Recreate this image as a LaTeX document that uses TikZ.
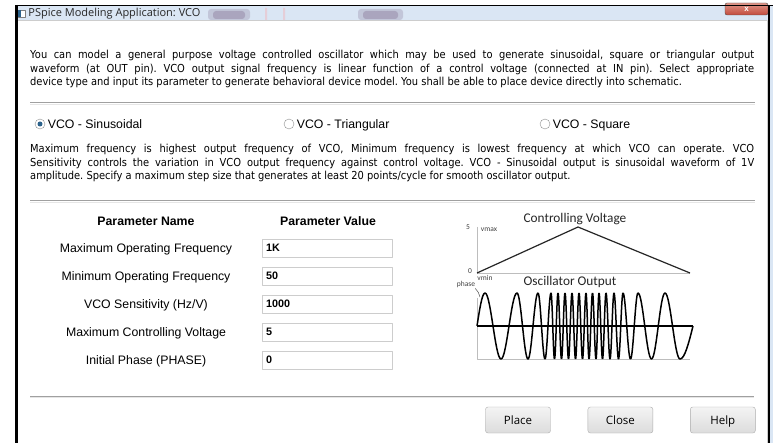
\documentclass[tikz,border=0pt]{standalone}
\usepackage{fontspec}
\setmainfont{Liberation Sans}
\newfontfamily\tahoma{DejaVu Sans}[FakeStretch=0.9]
\newfontfamily\segoe{Open Sans}
\newfontfamily\calibri{Carlito}
\usetikzlibrary{positioning}
\frenchspacing

\definecolor{glass}{HTML}{DAE6F4}
\definecolor{smudge}{HTML}{7E6A8C}
\definecolor{rule}{HTML}{A0A0A0}
\definecolor{rulelight}{HTML}{E6E6E6}
\definecolor{editline}{HTML}{CDCDCD}
\definecolor{axisgray}{HTML}{BDBDBD}
\definecolor{btnedge}{HTML}{ADADAD}
\definecolor{btntop}{HTML}{F4F4F4}
\definecolor{btnbottom}{HTML}{DCDCDC}
\definecolor{radioedge}{HTML}{8E8F8F}
\definecolor{radiodot}{HTML}{2C628B}
\definecolor{closetop}{HTML}{E0978A}
\definecolor{closebottom}{HTML}{C24A3C}

\begin{document}
\begin{tikzpicture}[x=1pt,y=-1pt,line join=bevel,
  para/.style={anchor=north west,inner sep=0pt,text width=724pt,align=justify,
    font=\tahoma\fontsize{11}{13.5}\selectfont},
  choice/.style={inner sep=0pt,text height=8.8pt,text depth=0pt,font=\fontsize{12.3}{14}\selectfont},
  radio/.style={circle,draw=radioedge,fill=white,inner sep=0pt,minimum size=10pt},
  head/.style={inner sep=0pt,text height=8.8pt,text depth=0pt,font=\bfseries\fontsize{12.3}{14}\selectfont},
  pname/.style={inner sep=0pt,text height=8.8pt,text depth=0pt,font=\fontsize{12.3}{14}\selectfont},
  pvalue/.style={draw=editline,fill=white,inner xsep=4pt,inner ysep=0pt,text width=122pt,
    minimum height=18pt,text height=7.8pt,text depth=0pt,align=left,
    font=\bfseries\fontsize{10.8}{12}\selectfont},
  button/.style={draw=btnedge,rounded corners=2.5pt,top color=btntop,bottom color=btnbottom,
    minimum width=65pt,minimum height=26pt,inner sep=0pt,text height=8.5pt,text depth=0pt,
    font=\segoe\fontsize{11.5}{13}\selectfont},
  gtitle/.style={inner sep=0pt,font=\calibri\fontsize{13.3}{15}\selectfont,text=black!85},
  ticklabel/.style={inner sep=0pt,font=\calibri\fontsize{7.5}{8}\selectfont,text=black!75},
  axisline/.style={draw=axisgray,line width=0.9pt},
  wave/.style={draw=black,line width=1.5pt},
  rulesep/.style={draw=rule,line width=1pt}]
\useasboundingbox (0,0) rectangle (773,443);
%%
% window frame and title bar
\fill[glass] (16,5) rectangle (773,20);
\fill[smudge,opacity=.25,rounded corners=3pt] (208,9) rectangle (250,20);
\fill[smudge,opacity=.35,rounded corners=3pt] (213,11) rectangle (245,19);
\fill[smudge,opacity=.25,rounded corners=3pt] (358,9) rectangle (403,20);
\fill[smudge,opacity=.35,rounded corners=3pt] (363,11) rectangle (398,19);
\fill[red!40,opacity=.3] (265,8) rectangle (267,20) (283,8) rectangle (285,20);
\fill[white] (18,20) rectangle (767,443);
\draw[editline] (18,20) -- (767,20) -- (767,443);
\node (close_box) at (746.5,9) [draw=black!70,rounded corners=2pt,top color=closetop,bottom color=closebottom,
  minimum width=43pt,minimum height=12pt,inner sep=0pt,text=white,font=\bfseries\fontsize{8}{8}\selectfont] {x};
\draw[black,line width=3pt] (16.5,5) -- (16.5,443);
\draw[black,line width=2pt] (769,5) -- (769,443);
\draw[black,line width=1.5pt] (15,5.75) -- (773,5.75);
\fill[glass] (770,6.5) rectangle (773,443);
\node (app_icon) at (21.5,13.5) [draw=gray,fill=white,minimum width=7pt,minimum height=7pt,inner sep=0pt] {};
\fill[radiodot] (app_icon.north west) rectangle ([xshift=3pt]app_icon.south west);
\node (title) [right=3pt of app_icon,inner sep=0pt,font=\segoe\fontsize{11}{12}\selectfont,text=black!85] {PSpice Modeling Application: VCO};
%
% description texts
\node (intro) at (30,50) [para] {You can model a general purpose voltage controlled oscillator which may be used to generate sinusoidal, square or triangular output\linebreak
waveform (at OUT pin). VCO output signal frequency is linear function of a control voltage (connected at IN pin). Select appropriate\linebreak
device type and input its parameter to generate behavioral device model. You shall be able to place device directly into schematic.};
\draw[rulesep] (30,103) -- (755,103);
\draw[rulelight] (30,104) -- (755,104);
\node (radio_0) at (40,124) [radio] {};
\fill[radiodot] (radio_0.center) circle (2.5pt);
\node (choice_0) [choice,right=2.5pt of radio_0] {VCO - Sinusoidal};
\node (radio_1) at (289,124) [radio] {};
\node (choice_1) [choice,right=2.5pt of radio_1] {VCO - Triangular};
\node (radio_2) at (545,124) [radio] {};
\node (choice_2) [choice,right=2.5pt of radio_2] {VCO - Square};
\node (notes) at (30,144) [para] {Maximum frequency is highest output frequency of VCO, Minimum frequency is lowest frequency at which VCO can operate. VCO\linebreak
Sensitivity controls the variation in VCO output frequency against control voltage. VCO - Sinusoidal output is sinusoidal waveform of 1V\linebreak
amplitude. Specify a maximum step size that generates at least 20 points/cycle for smooth oscillator output.};
\draw[rulesep] (30,201) -- (755,201);
\draw[rulelight] (30,202) -- (755,202);
%
% parameter table
\node (head_0) at (146,221) [head] {Parameter Name};
\node (head_1) at (328,221) [head] {Parameter Value};
\foreach \name/\val [count=\i from 0] in {Maximum Operating Frequency/1K,Minimum Operating Frequency/50,
  {VCO Sensitivity (Hz/V)}/1000,Maximum Controlling Voltage/5,Initial Phase (PHASE)/0}
{
  \node (name_\i) at (146,{248+28*\i}) [pname] {\name};
  \node (value_\i) at (327,{248+28*\i}) [pvalue] {\val};
}
%
% controlling voltage sketch
\node (ctrl_title) at (575,219) [gtitle] {Controlling Voltage};
\coordinate (ctrl_origin) at (477,273);
\coordinate (ctrl_peak) at (578,227);
\coordinate (ctrl_end) at (690,273);
\draw[axisline] (477,227) -- (ctrl_origin) -- (ctrl_end);
\draw[black!85,line width=1.2pt] (ctrl_origin) -- (ctrl_peak) -- (ctrl_end);
\node (tick_5) at (468,227) [ticklabel] {5};
\node (tick_vmax) at (489,230) [ticklabel] {vmax};
\node (tick_0) at (470,271) [ticklabel] {0};
\node (tick_vmin) at (485,278) [ticklabel] {vmin};
\node (tick_phase) at (466,285) [ticklabel] {phase};
%
% oscillator output sketch
\node (osc_title) at (570,282) [gtitle] {Oscillator Output};
\draw[axisline] (477,298) -- (477,359) -- (690,359);
\draw[black,line width=1.2pt] (477,326) -- (693,326);
\draw[wave] (477,326)
  foreach \p/\t/\z in {485/501/509,517/528/533,538/545/548,551/554.5/556.25,558/561.5/563.25,
    565/568.5/570.25,572/575.5/577.25,579/582.5/584.25,586/589/590.75,592.5/596/597.5,
    599/602.5/604.25,606/610/612,614/618.5/620.75,623/630.5/634.25,638/651.5/658.25,665/680/693}
  { sin (\p,293) cos ({(\p+\t)/2},326) sin (\t,359) cos (\z,326) };
\coordinate (phase_end) at (480,297);
\draw[black!70,line width=0.5pt] (tick_phase.south east) to[bend left=15] (phase_end);
%
% dialog buttons
\draw[rulesep] (30,396) -- (754,396);
\draw[rulelight] (30,397) -- (754,397);
\node (button_0) at (518,420) [button] {Place};
\node (button_1) [button,right=37pt of button_0] {Close};
\node (button_2) [button,right=37pt of button_1] {Help};
%
\end{tikzpicture}
\end{document}
